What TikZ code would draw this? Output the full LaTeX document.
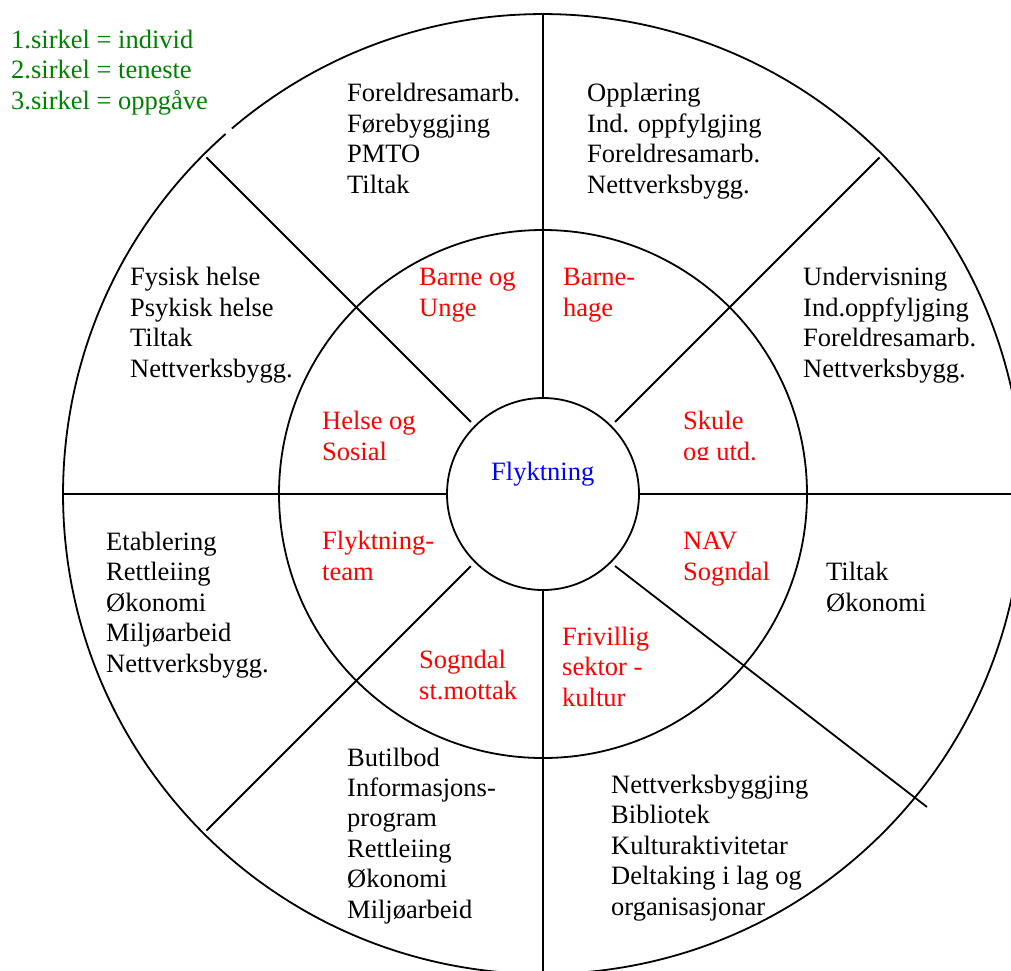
\documentclass[tikz,border=0pt]{standalone}
\usepackage{fontspec}
\setmainfont{Liberation Serif}
\usepackage{xcolor}
\usetikzlibrary{calc}
\definecolor{legendgreen}{RGB}{0,128,0}

\begin{document}
\begin{tikzpicture}[x=1pt, y=1pt,
    ring/.style={line width=1.8pt},
    oppg/.style={anchor=base west, align=left, inner sep=0pt, font=\fontsize{26.5}{30.4}\selectfont},
    teneste/.style={oppg, text=red},
    legend/.style={oppg, text=legendgreen}]
    \useasboundingbox (0,0) rectangle (1011,-970);
    \coordinate (c) at (543,-494);

    % Legend (placed at the baseline of its last line)
    \node[legend] (leg) at (11,-109) {1.sirkel = individ\\2.sirkel = teneste\\3.sirkel = oppgåve};

    % Circles
    \draw[ring] ($(c)+(131.4:480)$) arc (131.4:490.4:480);
    \draw[ring] (c) circle (264);
    \draw[ring] (c) circle (96);

    % Spokes
    \draw[ring] ($(c)+(90:96)$) -- ($(c)+(90:480)$);
    \draw[ring] ($(c)+(270:96)$) -- ($(c)+(270:480)$);
    \draw[ring] ($(c)+(180:96)$) -- ($(c)+(180:480)$);
    \draw[ring] ($(c)+(0:96)$) -- ($(c)+(0:480)$);
    \draw[ring] ($(c)+(135:102)$) -- ($(c)+(135:476)$);
    \draw[ring] ($(c)+(45:102)$) -- ($(c)+(45:476)$);
    \draw[ring] ($(c)+(225:102)$) -- ($(c)+(225:476)$);
    \draw[ring] ($(c)+(72,-72)$) -- ($(c)+(384,-313)$);

    % Individ
    \node[oppg, text=blue] (flyktning) at (491,-480) {Flyktning};

    % Teneste
    \node[teneste] (barneunge) at (419,-316) {Barne og\\Unge};
    \node[teneste] (barnehage) at (563,-316) {Barne-\\hage};
    \node[teneste] (helsesosial) at (322,-460) {Helse og\\Sosial};
    \begin{scope}
        \clip (660,-400) rectangle (800,-459);
        \node[teneste] (skule) at (683,-460) {Skule\\og utd.};
    \end{scope}
    \node[teneste] (team) at (322,-580) {Flyktning-\\team};
    \node[teneste] (nav) at (683,-580) {NAV\\Sogndal};
    \node[teneste] (mottak) at (419,-699) {Sogndal\\st.mottak};
    \node[teneste] (frivillig) at (562,-706) {Frivillig\\sektor -\\kultur};

    % Oppgaver
    \node[oppg] (oppg-barn) at (347,-193) {Foreldresamarb.\\Førebyggjing\\PMTO\\Tiltak};
    \node[oppg] (oppg-hage) at (587,-193) {Opplæring\\Ind. oppfylgjing\\Foreldresamarb.\\Nettverksbygg.};
    \node[oppg] (oppg-skule) at (803,-377) {Undervisning\\Ind.oppfyljging\\Foreldresamarb.\\Nettverksbygg.};
    \node[oppg] (oppg-helse) at (130,-377) {Fysisk helse\\Psykisk helse\\Tiltak\\Nettverksbygg.};
    \node[oppg] (oppg-team) at (106,-672) {Etablering\\Rettleiing\\Økonomi\\Miljøarbeid\\Nettverksbygg.};
    \node[oppg] (oppg-nav) at (826,-611) {Tiltak\\Økonomi};
    \node[oppg] (oppg-mottak) at (347,-918) {Butilbod\\Informasjons-\\program\\Rettleiing\\Økonomi\\Miljøarbeid};
    \node[oppg] (oppg-kultur) at (611,-915) {Nettverksbyggjing\\Bibliotek\\Kulturaktivitetar\\Deltaking i lag og\\organisasjonar};

\end{tikzpicture}
\end{document}
